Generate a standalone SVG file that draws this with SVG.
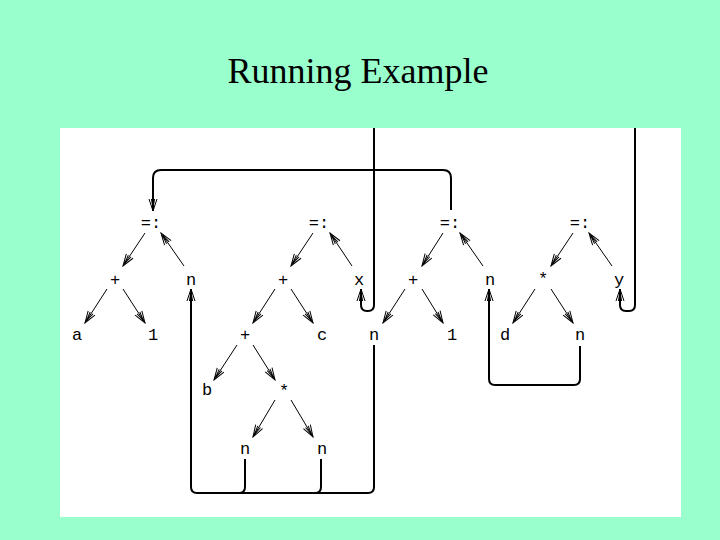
<svg xmlns="http://www.w3.org/2000/svg" width="720" height="540" viewBox="0 0 720 540">
<style>
.lbl{font-family:"Liberation Mono","DejaVu Sans Mono",monospace;font-size:17px;fill:#000;text-anchor:middle}
.e{stroke:#000;stroke-width:1;fill:none;marker-end:url(#ah)}
.c{stroke:#000;stroke-width:2;fill:none}
.ca{stroke:#000;stroke-width:2;fill:none;marker-end:url(#ah)}
</style>
<defs>
<marker id="ah" viewBox="-13 -5 14 10" refX="0" refY="0" markerWidth="14" markerHeight="10" markerUnits="userSpaceOnUse" orient="auto">
<path d="M-12,-4 L0,0 L-12,4 M-12,-1.6 L-3,0 L-12,1.6" fill="none" stroke="#000" stroke-width="1"/>
</marker>
</defs>
<rect width="720" height="540" fill="#99ffcc"/>
<rect x="60" y="128" width="621" height="389" fill="#fff"/>
<text x="358" y="83" font-family="Liberation Serif, serif" font-size="36" text-anchor="middle">Running Example</text>

<g id="connectors">
<line class="e" x1="145" y1="233" x2="123" y2="266"/>
<line class="e" x1="184" y1="266" x2="161" y2="233"/>
<line class="e" x1="107" y1="289" x2="85" y2="323"/>
<line class="e" x1="123" y1="289" x2="145" y2="323"/>
<line class="e" x1="313" y1="233" x2="291" y2="266"/>
<line class="e" x1="352" y1="266" x2="330" y2="233"/>
<line class="e" x1="275" y1="289" x2="253" y2="323"/>
<line class="e" x1="291" y1="289" x2="313" y2="323"/>
<line class="e" x1="237" y1="345" x2="214" y2="380"/>
<line class="e" x1="253" y1="345" x2="275" y2="380"/>
<line class="e" x1="275" y1="400" x2="253" y2="437"/>
<line class="e" x1="291" y1="400" x2="313" y2="437"/>
<line class="e" x1="443" y1="233" x2="422" y2="266"/>
<line class="e" x1="483" y1="266" x2="460" y2="233"/>
<line class="e" x1="405" y1="289" x2="383" y2="323"/>
<line class="e" x1="422" y1="289" x2="443" y2="323"/>
<line class="e" x1="573" y1="233" x2="551" y2="266"/>
<line class="e" x1="612" y1="266" x2="589" y2="233"/>
<line class="e" x1="535" y1="289" x2="513" y2="323"/>
<line class="e" x1="551" y1="289" x2="573" y2="323"/>
<path class="ca" d="M451,210 L451,178 Q451,170 443,170 L161,170 Q153,170 153,178 L153,211"/>
<path class="ca" d="M374,128 L374,305 Q374,311 368,311 L367,311 Q361,311 361,305 L361,289"/>
<path class="ca" d="M635,128 L635,305 Q635,311 629,311 L626,311 Q620,311 620,305 L620,289"/>
<path class="ca" d="M374,345 L374,487 Q374,493 368,493 L197,493 Q191,493 191,487 L191,289"/>
<path class="c" d="M245,459 L245,487 Q245,493 239,493"/>
<path class="c" d="M321,459 L321,487 Q321,493 315,493"/>
<path class="ca" d="M580,346 L580,379 Q580,385 574,385 L495,385 Q489,385 489,379 L489,289"/>
</g>

<g id="n1"><text class="lbl" x="151" y="228">=:</text></g>
<g id="n2"><text class="lbl" x="115" y="285">+</text></g>
<g id="n3"><text class="lbl" x="191" y="285">n</text></g>
<g id="n4"><text class="lbl" x="77" y="340">a</text></g>
<g id="n5"><text class="lbl" x="153" y="340">1</text></g>
<g id="n6"><text class="lbl" x="319" y="228">=:</text></g>
<g id="n7"><text class="lbl" x="283" y="285">+</text></g>
<g id="n8"><text class="lbl" x="359" y="285">x</text></g>
<g id="n9"><text class="lbl" x="245" y="340">+</text></g>
<g id="n10"><text class="lbl" x="322" y="340">c</text></g>
<g id="n11"><text class="lbl" x="207" y="395">b</text></g>
<g id="n12"><text class="lbl" x="284" y="396">*</text></g>
<g id="n13"><text class="lbl" x="245" y="454">n</text></g>
<g id="n14"><text class="lbl" x="322" y="454">n</text></g>
<g id="n15"><text class="lbl" x="374" y="340">n</text></g>
<g id="n16"><text class="lbl" x="450" y="228">=:</text></g>
<g id="n17"><text class="lbl" x="413" y="285">+</text></g>
<g id="n18"><text class="lbl" x="490" y="285">n</text></g>
<g id="n19"><text class="lbl" x="452" y="340">1</text></g>
<g id="n20"><text class="lbl" x="580" y="228">=:</text></g>
<g id="n21"><text class="lbl" x="543" y="284">*</text></g>
<g id="n22"><text class="lbl" x="619" y="285">y</text></g>
<g id="n23"><text class="lbl" x="505" y="340">d</text></g>
<g id="n24"><text class="lbl" x="580" y="340">n</text></g>
</svg>
